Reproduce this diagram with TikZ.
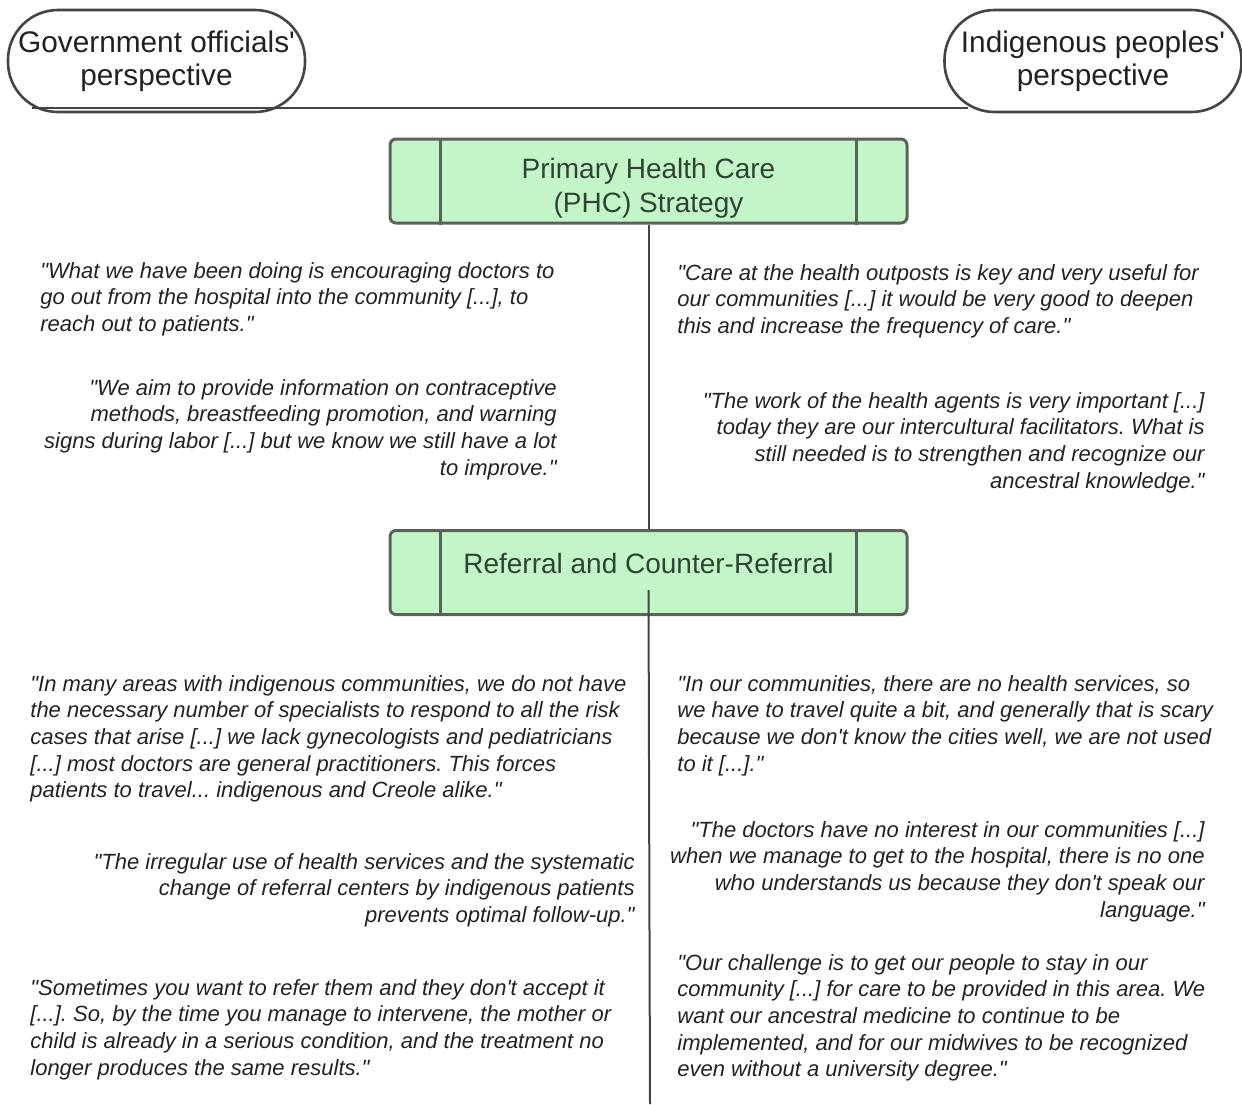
\documentclass[tikz,border=0pt]{standalone}
\usepackage{fontspec}
\setmainfont{Liberation Sans}[Ligatures=TeXOff]
\frenchspacing
\usetikzlibrary{positioning,calc}
\definecolor{boxfill}{HTML}{C4F5C8}
\definecolor{boxline}{HTML}{5A625A}
\definecolor{boxtext}{HTML}{2F4434}
\definecolor{inktext}{HTML}{222222}
\definecolor{rulegrey}{HTML}{444444}
\tikzset{
   view/.style={draw=rulegrey, line width=1.3pt, fill=white, rounded corners=25pt,
      minimum width=148.5pt, minimum height=51pt, align=center, text=inktext,
      font=\fontsize{14.9}{16.5}\selectfont, inner sep=0pt},
   stage/.style={draw=boxline, line width=1.5pt, fill=boxfill, rounded corners=3pt,
      minimum width=258.5pt, minimum height=42pt, align=center, text=boxtext,
      font=\fontsize{14}{17}\selectfont, inner sep=0pt},
   quote/.style={text=inktext, inner sep=0pt, font=\fontsize{11}{13.3}\selectfont\itshape},
   quoteL/.style={quote, align=left, anchor=north west},
   quoteR/.style={quote, align=right, anchor=north east},
   rule/.style={draw=rulegrey, line width=1pt},
   stagerule/.style={draw=boxline, line width=1.5pt}
}
\begin{document}
\begin{tikzpicture}[x=0.5pt,y=-0.5pt]
   \useasboundingbox (0,0) rectangle (1242,1104);

   % perspectives
   \node[view] (gov) at (156.5,61) {Government officials'\\perspective};
   \node[view] (ind) at (1093,61) {Indigenous peoples'\\perspective};
   \draw[rule] ([xshift=12.5pt,yshift=2.5pt]gov.south west) -- ([xshift=12.5pt,yshift=2.5pt]ind.south west);

   % stages
   \node[stage] (phc) at (648.5,181) {\rule{0pt}{17pt}Primary Health Care\\(PHC) Strategy};
   \node[stage, text depth=9.5pt] (ref) at (648.5,572.5) {Referral and Counter-Referral};
   \foreach \s in {phc,ref} {
      \draw[stagerule] ([xshift=26pt]\s.north west) -- ([xshift=26pt]\s.south west);
      \draw[stagerule] ([xshift=-26pt]\s.north east) -- ([xshift=-26pt]\s.south east);
   }
   \coordinate (end) at (650,1104);
   \draw[rule] (phc.south) -- (ref.north);
   \draw[rule] ([yshift=-8.75pt]ref.center) -- (end);

   % PHC quotes
   \node[quoteL] (govOut) at (40,262) {"What we have been doing is encouraging doctors to\\go out from the hospital into the community [...], to\\reach out to patients."};
   \node[quoteR] (govInfo) at (557,379) {"We aim to provide information on contraceptive\\methods, breastfeeding promotion, and warning\\signs during labor [...] but we know we still have a lot\\to improve."};
   \node[quoteL] (indPost) at (677,264) {"Care at the health outposts is key and very useful for\\our communities [...] it would be very good to deepen\\this and increase the frequency of care."};
   \node[quoteR] (indAgent) at (1205,392) {"The work of the health agents is very important [...]\\today they are our intercultural facilitators. What is\\still needed is to strengthen and recognize our\\ancestral knowledge."};

   % referral quotes
   \node[quoteL] (govSpec) at (30,675) {"In many areas with indigenous communities, we do not have\\the necessary number of specialists to respond to all the risk\\cases that arise [...] we lack gynecologists and pediatricians\\{}[...] most doctors are general practitioners. This forces\\patients to travel... indigenous and Creole alike."};
   \node[quoteR] (govUse) at (635,853) {"The irregular use of health services and the systematic\\change of referral centers by indigenous patients\\prevents optimal follow-up."};
   \node[quoteL] (govRefuse) at (30,979) {"Sometimes you want to refer them and they don't accept it\\{}[...]. So, by the time you manage to intervene, the mother or\\child is already in a serious condition, and the treatment no\\longer produces the same results."};
   \node[quoteL] (indTravel) at (677,675) {"In our communities, there are no health services, so\\we have to travel quite a bit, and generally that is scary\\because we don't know the cities well, we are not used\\to it [...]."};
   \node[quoteR] (indDoctor) at (1205,821) {"The doctors have no interest in our communities [...]\\when we manage to get to the hospital, there is no one\\who understands us because they don't speak our\\language."};
   \node[quoteL] (indMidwife) at (677,954) {"Our challenge is to get our people to stay in our\\community [...] for care to be provided in this area. We\\want our ancestral medicine to continue to be\\implemented, and for our midwives to be recognized\\even without a university degree."};
\end{tikzpicture}
\end{document}
